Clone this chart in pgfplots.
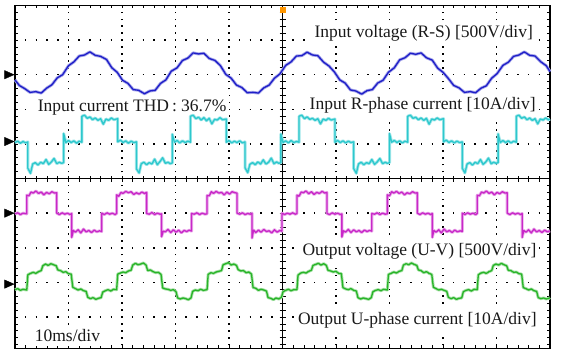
\documentclass[border=0pt]{standalone}
\usepackage{pgfplots}
\usepackage{pgfplotstable}
\pgfplotsset{compat=1.18}
\usepackage{fontspec}
\setmainfont{Liberation Serif}
\definecolor{cv}{RGB}{30,30,200}
\definecolor{ci}{RGB}{45,200,205}
\definecolor{ov}{RGB}{200,40,200}
\definecolor{oi}{RGB}{40,180,40}
\definecolor{mk}{RGB}{255,150,0}
\tikzset{lab/.style={font=\fontsize{17.5}{20}\selectfont,fill=white,inner xsep=3pt,inner ysep=4pt,anchor=base,text=black!90}}

% Input voltage (R-S), divisions
\pgfplotstableread[row sep=\\]{x y\\
0 2.85\\0.08 2.69\\0.18 2.60\\0.28 2.49\\0.39 2.51\\0.49 2.47\\0.59 2.61\\0.69 2.71\\0.79 2.91\\0.89 3.00\\
1.00 3.26\\1.10 3.37\\1.20 3.54\\1.30 3.57\\1.40 3.66\\1.50 3.56\\1.60 3.53\\1.71 3.44\\1.81 3.20\\1.91 3.07\\
2.01 2.84\\2.11 2.75\\2.21 2.57\\2.31 2.55\\2.42 2.45\\2.52 2.53\\2.62 2.55\\2.72 2.75\\2.82 2.85\\2.92 3.10\\
3.03 3.20\\3.13 3.41\\3.23 3.48\\3.33 3.63\\3.43 3.60\\3.53 3.62\\3.63 3.47\\3.74 3.41\\3.84 3.26\\3.94 3.01\\
4.04 2.90\\4.14 2.70\\4.24 2.63\\4.34 2.48\\4.45 2.49\\4.55 2.47\\4.65 2.62\\4.75 2.70\\4.85 2.90\\4.95 3.02\\
5.06 3.27\\5.16 3.37\\5.26 3.54\\5.36 3.55\\5.46 3.65\\5.56 3.57\\5.66 3.55\\5.77 3.36\\5.87 3.25\\5.97 3.08\\
6.07 2.85\\6.17 2.76\\6.27 2.56\\6.37 2.53\\6.48 2.44\\6.58 2.54\\6.68 2.57\\6.78 2.76\\6.88 2.84\\6.98 3.07\\
7.09 3.20\\7.19 3.43\\7.29 3.49\\7.39 3.62\\7.49 3.59\\7.59 3.63\\7.69 3.49\\7.80 3.42\\7.90 3.19\\8.00 3.07\\
8.10 2.89\\8.20 2.69\\8.30 2.62\\8.40 2.49\\8.51 2.51\\8.61 2.48\\8.71 2.61\\8.81 2.68\\8.91 2.90\\9.01 3.03\\
9.12 3.27\\9.22 3.36\\9.32 3.53\\9.42 3.57\\9.52 3.66\\9.62 3.56\\9.72 3.54\\9.83 3.37\\9.93 3.26\\10.00 3.09\\
}\tvin

% Input R-phase current
\pgfplotstableread[row sep=\\]{x y\\
0 1.04\\0.05 1.08\\0.10 1.02\\0.15 1.07\\0.20 1.03\\0.24 1.06\\
0.24 0.30\\0.29 0.15\\0.33 0.42\\0.38 0.46\\0.43 0.39\\0.48 0.47\\0.53 0.43\\0.58 0.55\\0.63 0.41\\0.68 0.48\\0.73 0.58\\0.78 0.43\\0.83 0.47\\0.87 0.44\\0.91 0.46\\
0.91 1.30\\0.95 1.04\\1.00 1.10\\1.05 1.04\\1.10 1.09\\1.15 1.02\\1.20 1.08\\1.25 1.05\\
1.25 1.80\\1.30 1.83\\1.35 1.74\\1.40 1.78\\1.45 1.70\\1.50 1.75\\1.55 1.68\\1.60 1.73\\1.65 1.57\\1.70 1.72\\1.75 1.68\\1.80 1.75\\1.85 1.70\\1.92 1.73\\
1.92 1.06\\1.97 1.11\\2.02 1.04\\2.07 1.09\\2.12 1.02\\2.17 1.08\\2.22 1.04\\2.27 1.06\\
2.27 0.28\\2.32 0.16\\2.36 0.43\\2.41 0.47\\2.46 0.40\\2.51 0.46\\2.56 0.42\\2.61 0.56\\2.66 0.40\\2.71 0.49\\2.76 0.60\\2.81 0.44\\2.86 0.47\\2.90 0.43\\2.94 0.45\\
2.94 1.28\\2.98 1.05\\3.03 1.10\\3.08 1.03\\3.13 1.09\\3.18 1.04\\3.23 1.08\\3.28 1.05\\
3.28 1.80\\3.33 1.83\\3.38 1.73\\3.43 1.77\\3.48 1.69\\3.53 1.76\\3.58 1.67\\3.63 1.74\\3.68 1.58\\3.73 1.71\\3.78 1.69\\3.83 1.76\\3.88 1.70\\3.95 1.72\\
3.95 1.05\\4.00 1.10\\4.05 1.03\\4.10 1.08\\4.15 1.04\\4.20 1.09\\4.25 1.03\\4.30 1.06\\
4.30 0.31\\4.35 0.17\\4.39 0.41\\4.44 0.46\\4.49 0.40\\4.54 0.48\\4.59 0.42\\4.64 0.54\\4.69 0.42\\4.74 0.47\\4.79 0.59\\4.84 0.43\\4.89 0.48\\4.93 0.44\\4.97 0.46\\
4.97 1.29\\5.01 1.04\\5.06 1.09\\5.11 1.03\\5.16 1.10\\5.21 1.04\\5.26 1.07\\5.31 1.05\\
5.31 1.80\\5.36 1.83\\5.41 1.73\\5.46 1.78\\5.51 1.71\\5.56 1.74\\5.61 1.68\\5.66 1.73\\5.71 1.58\\5.76 1.72\\5.81 1.68\\5.86 1.74\\5.91 1.69\\5.98 1.72\\
5.98 1.05\\6.03 1.10\\6.08 1.04\\6.13 1.09\\6.18 1.03\\6.23 1.08\\6.28 1.04\\6.33 1.06\\
6.33 0.29\\6.38 0.15\\6.42 0.42\\6.47 0.47\\6.52 0.40\\6.57 0.46\\6.62 0.43\\6.67 0.55\\6.72 0.41\\6.77 0.48\\6.82 0.58\\6.87 0.43\\6.92 0.47\\6.96 0.44\\7.00 0.46\\
7.00 1.30\\7.04 1.05\\7.09 1.10\\7.14 1.04\\7.19 1.09\\7.24 1.03\\7.29 1.08\\7.34 1.05\\
7.34 1.80\\7.39 1.83\\7.44 1.74\\7.49 1.77\\7.54 1.70\\7.59 1.75\\7.64 1.68\\7.69 1.74\\7.74 1.57\\7.79 1.72\\7.84 1.69\\7.89 1.75\\7.94 1.70\\8.01 1.73\\
8.01 1.06\\8.06 1.11\\8.11 1.04\\8.16 1.09\\8.21 1.03\\8.26 1.08\\8.31 1.04\\8.36 1.06\\
8.36 0.30\\8.41 0.16\\8.45 0.42\\8.50 0.46\\8.55 0.39\\8.60 0.47\\8.65 0.43\\8.70 0.55\\8.75 0.41\\8.80 0.48\\8.85 0.59\\8.90 0.43\\8.95 0.47\\8.99 0.44\\9.03 0.46\\
9.03 1.29\\9.07 1.04\\9.12 1.10\\9.17 1.04\\9.22 1.09\\9.27 1.03\\9.32 1.08\\9.37 1.05\\
9.37 1.80\\9.42 1.83\\9.47 1.74\\9.52 1.78\\9.57 1.70\\9.62 1.75\\9.67 1.68\\9.72 1.73\\9.77 1.58\\9.82 1.72\\9.87 1.69\\9.92 1.75\\9.97 1.70\\10.00 1.72\\
}\tiin

% Output voltage (U-V)
\pgfplotstableread[row sep=\\]{x y\\
0 -1.02\\0.05 -0.99\\0.10 -1.04\\0.15 -1.00\\0.22 -1.02\\
0.22 -0.48\\0.26 -0.50\\0.30 -0.39\\0.34 -0.42\\0.39 -0.36\\0.44 -0.43\\0.49 -0.39\\0.54 -0.47\\0.59 -0.40\\0.64 -0.44\\0.69 -0.38\\0.74 -0.42\\0.78 -0.41\\
0.78 -1.00\\0.83 -1.04\\0.88 -0.99\\0.93 -1.03\\0.98 -1.00\\1.03 -1.04\\1.06 -1.01\\
1.06 -1.70\\1.09 -1.50\\1.13 -1.55\\1.18 -1.48\\1.23 -1.57\\1.28 -1.46\\1.33 -1.54\\1.38 -1.50\\1.43 -1.56\\1.48 -1.49\\1.53 -1.54\\1.58 -1.51\\1.62 -1.53\\
1.62 -1.00\\1.67 -1.04\\1.72 -0.99\\1.77 -1.03\\1.82 -1.00\\1.87 -1.04\\1.90 -1.01\\
1.90 -0.47\\1.94 -0.51\\1.98 -0.40\\2.02 -0.43\\2.07 -0.37\\2.12 -0.41\\2.17 -0.38\\2.22 -0.46\\2.27 -0.41\\2.32 -0.45\\2.37 -0.39\\2.42 -0.43\\2.46 -0.40\\
2.46 -1.01\\2.51 -1.03\\2.56 -0.98\\2.61 -1.04\\2.66 -1.00\\2.71 -1.03\\2.74 -1.02\\
2.74 -1.68\\2.77 -1.52\\2.81 -1.54\\2.86 -1.47\\2.91 -1.56\\2.96 -1.48\\3.01 -1.55\\3.06 -1.49\\3.11 -1.57\\3.16 -1.50\\3.21 -1.53\\3.26 -1.49\\3.30 -1.52\\
3.30 -1.01\\3.35 -1.03\\3.40 -0.99\\3.45 -1.04\\3.50 -1.00\\3.55 -1.03\\3.59 -1.02\\
3.59 -0.49\\3.63 -0.50\\3.67 -0.38\\3.71 -0.43\\3.76 -0.37\\3.81 -0.42\\3.86 -0.40\\3.91 -0.47\\3.96 -0.39\\4.01 -0.45\\4.06 -0.38\\4.11 -0.41\\4.15 -0.42\\
4.15 -1.00\\4.20 -1.03\\4.25 -0.99\\4.30 -1.04\\4.35 -1.01\\4.40 -1.03\\4.43 -1.00\\
4.43 -1.72\\4.46 -1.49\\4.50 -1.56\\4.55 -1.49\\4.60 -1.55\\4.65 -1.47\\4.70 -1.53\\4.75 -1.51\\4.80 -1.57\\4.85 -1.48\\4.90 -1.55\\4.95 -1.50\\4.99 -1.52\\
4.99 -1.00\\5.04 -1.04\\5.09 -1.00\\5.14 -1.03\\5.19 -0.99\\5.24 -1.03\\5.27 -1.01\\
5.27 -0.48\\5.31 -0.51\\5.35 -0.39\\5.39 -0.41\\5.44 -0.36\\5.49 -0.44\\5.54 -0.38\\5.59 -0.46\\5.64 -0.40\\5.69 -0.43\\5.74 -0.37\\5.79 -0.42\\5.83 -0.40\\
5.83 -1.01\\5.88 -1.04\\5.93 -0.99\\5.98 -1.03\\6.03 -1.00\\6.08 -1.04\\6.11 -1.02\\
6.11 -1.69\\6.14 -1.51\\6.18 -1.55\\6.23 -1.47\\6.28 -1.56\\6.33 -1.48\\6.38 -1.54\\6.43 -1.50\\6.48 -1.56\\6.53 -1.49\\6.58 -1.53\\6.63 -1.50\\6.67 -1.52\\
6.67 -1.01\\6.72 -1.03\\6.77 -0.99\\6.82 -1.04\\6.87 -1.00\\6.92 -1.03\\6.96 -1.02\\
6.96 -0.47\\7.00 -0.50\\7.04 -0.38\\7.08 -0.42\\7.13 -0.37\\7.18 -0.43\\7.23 -0.39\\7.28 -0.47\\7.33 -0.41\\7.38 -0.44\\7.43 -0.38\\7.48 -0.42\\7.52 -0.41\\
7.52 -1.00\\7.57 -1.04\\7.62 -0.99\\7.67 -1.03\\7.72 -1.00\\7.77 -1.04\\7.80 -1.01\\
7.80 -1.70\\7.83 -1.50\\7.87 -1.55\\7.92 -1.48\\7.97 -1.57\\8.02 -1.46\\8.07 -1.54\\8.12 -1.50\\8.17 -1.56\\8.22 -1.49\\8.27 -1.54\\8.32 -1.51\\8.36 -1.53\\
8.36 -1.00\\8.41 -1.04\\8.46 -0.99\\8.51 -1.03\\8.56 -1.00\\8.61 -1.04\\8.64 -1.01\\
8.64 -0.48\\8.68 -0.50\\8.72 -0.39\\8.76 -0.42\\8.81 -0.36\\8.86 -0.43\\8.91 -0.39\\8.96 -0.47\\9.01 -0.40\\9.06 -0.44\\9.11 -0.38\\9.16 -0.42\\9.20 -0.41\\
9.20 -1.00\\9.25 -1.04\\9.30 -0.99\\9.35 -1.03\\9.40 -1.00\\9.45 -1.04\\9.48 -1.01\\
9.48 -1.70\\9.51 -1.50\\9.55 -1.55\\9.60 -1.48\\9.65 -1.57\\9.70 -1.46\\9.75 -1.54\\9.80 -1.50\\9.85 -1.56\\9.90 -1.49\\9.95 -1.54\\10.00 -1.51\\
}\tvout

% Output U-phase current
\pgfplotstableread[row sep=\\]{x y\\
0 -3.21\\0.05 -3.18\\0.10 -3.23\\0.15 -3.20\\0.22 -3.22\\
0.24 -2.78\\0.29 -2.74\\0.34 -2.71\\0.39 -2.74\\0.44 -2.69\\0.49 -2.66\\0.52 -2.52\\0.57 -2.47\\0.62 -2.51\\0.67 -2.46\\0.72 -2.49\\0.77 -2.52\\
0.80 -2.64\\0.85 -2.66\\0.90 -2.71\\0.95 -2.69\\1.00 -2.75\\1.05 -2.76\\1.08 -3.14\\1.13 -3.18\\1.18 -3.22\\1.23 -3.19\\1.28 -3.24\\1.33 -3.26\\
1.36 -3.43\\1.41 -3.47\\1.46 -3.44\\1.51 -3.49\\1.56 -3.46\\1.61 -3.44\\1.64 -3.28\\1.69 -3.24\\1.74 -3.21\\1.79 -3.25\\1.84 -3.20\\1.90 -3.21\\
1.92 -2.76\\1.97 -2.73\\2.02 -2.70\\2.07 -2.72\\2.12 -2.67\\2.17 -2.65\\2.20 -2.50\\2.25 -2.45\\2.30 -2.49\\2.35 -2.47\\2.40 -2.44\\2.45 -2.50\\
2.48 -2.66\\2.53 -2.64\\2.58 -2.69\\2.63 -2.72\\2.68 -2.71\\2.73 -2.77\\2.76 -3.16\\2.81 -3.19\\2.86 -3.20\\2.91 -3.23\\2.96 -3.21\\3.01 -3.27\\
3.04 -3.45\\3.09 -3.48\\3.14 -3.45\\3.19 -3.47\\3.24 -3.50\\3.29 -3.45\\3.32 -3.26\\3.37 -3.22\\3.42 -3.24\\3.47 -3.20\\3.52 -3.23\\3.59 -3.21\\
3.61 -2.77\\3.66 -2.72\\3.71 -2.74\\3.76 -2.70\\3.81 -2.68\\3.86 -2.66\\3.89 -2.49\\3.94 -2.46\\3.99 -2.43\\4.04 -2.50\\4.09 -2.47\\4.14 -2.51\\
4.17 -2.63\\4.22 -2.67\\4.27 -2.66\\4.32 -2.72\\4.37 -2.70\\4.42 -2.76\\4.45 -3.15\\4.50 -3.17\\4.55 -3.23\\4.60 -3.20\\4.65 -3.22\\4.70 -3.25\\
4.73 -3.44\\4.78 -3.46\\4.83 -3.50\\4.88 -3.45\\4.93 -3.48\\4.98 -3.43\\5.01 -3.27\\5.06 -3.23\\5.11 -3.20\\5.16 -3.24\\5.21 -3.21\\5.27 -3.21\\
5.29 -2.79\\5.34 -2.73\\5.39 -2.71\\5.44 -2.73\\5.49 -2.68\\5.54 -2.65\\5.57 -2.51\\5.62 -2.48\\5.67 -2.45\\5.72 -2.50\\5.77 -2.46\\5.82 -2.51\\
5.85 -2.65\\5.90 -2.67\\5.95 -2.70\\6.00 -2.68\\6.05 -2.74\\6.10 -2.75\\6.13 -3.15\\6.18 -3.19\\6.23 -3.21\\6.28 -3.18\\6.33 -3.23\\6.38 -3.25\\
6.41 -3.44\\6.46 -3.48\\6.51 -3.45\\6.56 -3.47\\6.61 -3.49\\6.66 -3.44\\6.69 -3.27\\6.74 -3.23\\6.79 -3.21\\6.84 -3.24\\6.89 -3.20\\6.96 -3.22\\
6.98 -2.77\\7.03 -2.74\\7.08 -2.70\\7.13 -2.73\\7.18 -2.68\\7.23 -2.66\\7.26 -2.50\\7.31 -2.46\\7.36 -2.49\\7.41 -2.44\\7.46 -2.48\\7.51 -2.51\\
7.54 -2.64\\7.59 -2.66\\7.64 -2.72\\7.69 -2.69\\7.74 -2.74\\7.79 -2.77\\7.82 -3.14\\7.87 -3.18\\7.92 -3.22\\7.97 -3.20\\8.02 -3.23\\8.07 -3.26\\
8.10 -3.43\\8.15 -3.47\\8.20 -3.44\\8.25 -3.49\\8.30 -3.46\\8.35 -3.45\\8.38 -3.27\\8.43 -3.23\\8.48 -3.21\\8.53 -3.25\\8.58 -3.20\\8.64 -3.21\\
8.66 -2.78\\8.71 -2.73\\8.76 -2.71\\8.81 -2.74\\8.86 -2.69\\8.91 -2.66\\8.94 -2.51\\8.99 -2.47\\9.04 -2.50\\9.09 -2.45\\9.14 -2.49\\9.19 -2.52\\
9.22 -2.65\\9.27 -2.66\\9.32 -2.71\\9.37 -2.70\\9.42 -2.75\\9.47 -2.76\\9.50 -3.15\\9.55 -3.18\\9.60 -3.22\\9.65 -3.19\\9.70 -3.24\\9.75 -3.26\\
9.78 -3.44\\9.83 -3.47\\9.88 -3.45\\9.93 -3.48\\9.98 -3.46\\10.00 -3.44\\
}\tiout

\begin{document}
\begin{tikzpicture}
% centre cross with ticks
\begin{axis}[set layers,width=535pt,height=343pt,scale only axis,at={(0pt,0pt)},anchor=south west,
  xmin=-5,xmax=5,ymin=-4.91,ymax=5,axis lines=center,
  axis line style={-,line width=1pt,black},
  xtick={-4.8,-4.6,...,4.8},ytick={-4.8,-4.6,...,4.8},
  xticklabels={},yticklabels={},
  tick align=center,major tick length=6pt,tick style={black,line width=0.8pt}]
\addplot[draw=none] coordinates {(0,0)};
\end{axis}
% main screen
\begin{axis}[set layers,width=535pt,height=343pt,scale only axis,at={(0pt,0pt)},anchor=south west,
  xmin=0,xmax=10,ymin=-4.91,ymax=5,clip=false,
  xtick={0,...,10},ytick={-4,...,4},minor x tick num=4,
  minor ytick={-4.8,-4.6,...,4.8},
  xticklabels={},yticklabels={},
  tick align=inside,major tick length=3pt,minor tick length=3pt,
  tick style={black,line width=0.8pt},
  axis line style={line width=1.6pt,black},
  xmajorgrids,ymajorgrids,
  x grid style={black,line width=1.5pt,dash pattern=on 1.5pt off 5.423pt,dash phase=3.866pt},
  y grid style={black,line width=1.5pt,dash pattern=on 1.5pt off 9.2pt,dash phase=0.75pt}]
\node[lab] at (axis cs:7.64,4.07) {Input voltage (R-S) [500V/div]};
\node[lab] at (axis cs:2.19,1.95) {Input current THD\,: 36.7\%};
\node[lab] at (axis cs:7.62,1.99) {Input R-phase current [10A/div]};
\node[lab] at (axis cs:7.56,-2.21) {Output voltage (U-V) [500V/div]};
\node[lab] at (axis cs:7.52,-4.22) {Output U-phase current [10A/div]};
\node[lab] at (axis cs:0.98,-4.72) {10ms/div};
\addplot[cv!40!white,line width=3pt,line join=round] table {\tvin};
\addplot[cv,line width=1.3pt,line join=round] table {\tvin};
\addplot[ci!45!white,line width=3pt,line join=round] table {\tiin};
\addplot[ci,line width=1.3pt,line join=round] table {\tiin};
\addplot[ov!40!white,line width=3pt,line join=round] table {\tvout};
\addplot[ov,line width=1.3pt,line join=round] table {\tvout};
\addplot[oi!40!white,line width=3pt,line join=round] table {\tiout};
\addplot[oi,line width=1.3pt,line join=round] table {\tiout};
\addplot[only marks,mark=triangle*,mark size=4.8pt,mark options={rotate=-90,yscale=1.3,black,fill=black}]
  coordinates {(-0.135,3.0) (-0.135,1.07) (-0.135,-1.0) (-0.135,-3.05)};
\addplot[only marks,mark=square*,mark size=2.2pt,mark options={mk,fill=mk}] coordinates {(5.0,4.88)};
\end{axis}
\pgfresetboundingbox
\path[use as bounding box] (-15pt,-3.5pt) rectangle (548pt,348.5pt);
\end{tikzpicture}
\end{document}
